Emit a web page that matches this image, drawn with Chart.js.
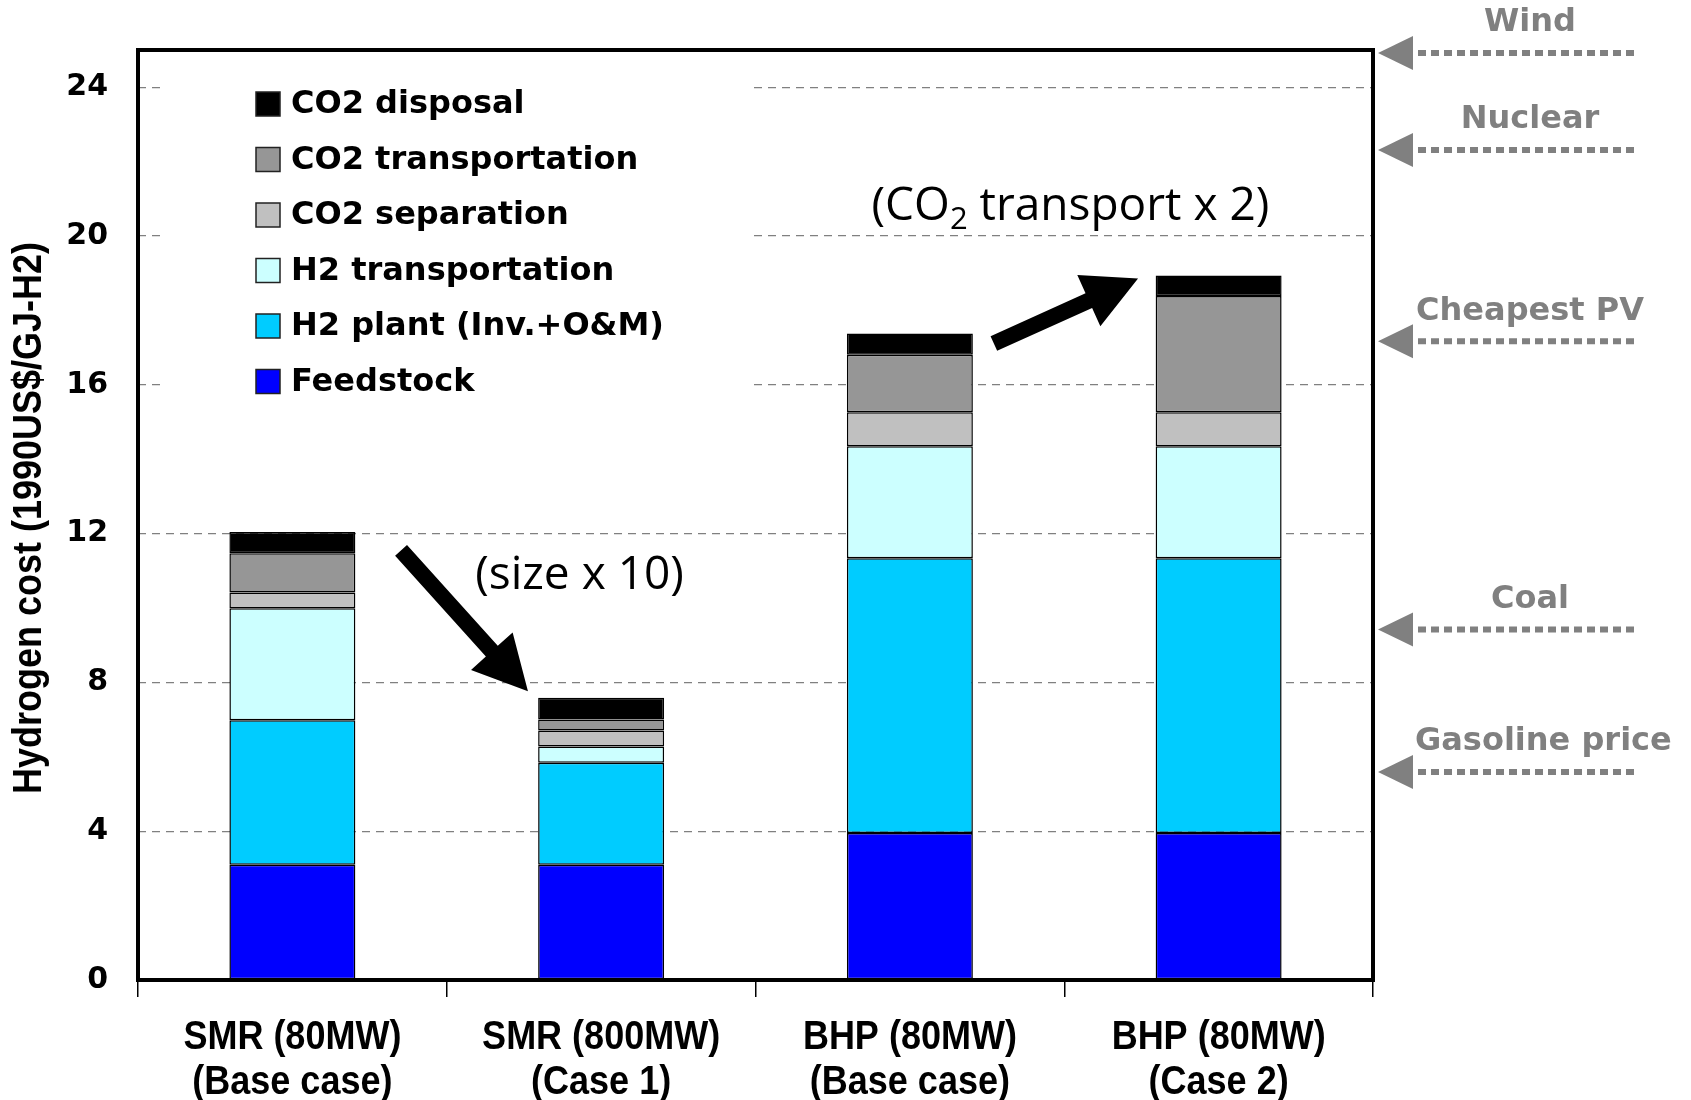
<!DOCTYPE html>
<html>
<head>
<meta charset="utf-8">
<script src="https://cdn.jsdelivr.net/npm/chart.js@4.4.1/dist/chart.umd.min.js"></script>
<style>
  html, body { margin: 0; padding: 0; background: #fff; }
</style>
</head>
<body>
<canvas id="chart" width="1691" height="1100"></canvas>
<script>
// categories (two-line labels)
const categories = [
  ['SMR (80MW)', '(Base case)'],
  ['SMR (800MW)', '(Case 1)'],
  ['BHP (80MW)', '(Base case)'],
  ['BHP (80MW)', '(Case 2)']
];

// stacked cost components, 1990US$/GJ-H2 (bottom to top)
const feedstock     = [3.10, 3.10, 3.95, 3.95];
const h2Plant       = [3.88, 2.74, 7.39, 7.39];
const h2Transport   = [3.01, 0.44, 3.01, 3.01];
const co2Separation = [0.43, 0.43, 0.91, 0.91];
const co2Transport  = [1.05, 0.29, 1.55, 3.13];
const co2Disposal   = [0.57, 0.59, 0.57, 0.55];

const yTicks = [0, 4, 8, 12, 16, 20, 24];
const yTitle = 'Hydrogen cost (1990US$/GJ-H2)';

// reference costs shown on the right-hand side
const benchLabels = ['Wind', 'Nuclear', 'Cheapest PV', 'Coal', 'Gasoline price'];
const benchValues = [24.92, 22.31, 17.17, 9.42, 5.59];

const FONT_BOLD = "'DejaVu Sans', Verdana, sans-serif";
const FONT_ARIAL = "'Liberation Sans', Arial, sans-serif";
const NARROW = 0.9; // horizontal squeeze to mimic a narrow face

// helper: category index (may be fractional) -> pixel
function catX(chart, i) {
  const a = chart.chartArea;
  const w = (a.right - a.left) / categories.length;
  return a.left + (i + 0.5) * w;
}

function blockArrow(ctx, x0, y0, x1, y1, shaft, headLen, headW) {
  const dx = x1 - x0, dy = y1 - y0;
  const len = Math.sqrt(dx * dx + dy * dy);
  const ux = dx / len, uy = dy / len;
  const nx = -uy, ny = ux;
  const bx = x1 - ux * headLen, by = y1 - uy * headLen;
  ctx.beginPath();
  ctx.moveTo(x0 + nx * shaft / 2, y0 + ny * shaft / 2);
  ctx.lineTo(bx + nx * shaft / 2, by + ny * shaft / 2);
  ctx.lineTo(bx + nx * headW / 2, by + ny * headW / 2);
  ctx.lineTo(x1, y1);
  ctx.lineTo(bx - nx * headW / 2, by - ny * headW / 2);
  ctx.lineTo(bx - nx * shaft / 2, by - ny * shaft / 2);
  ctx.lineTo(x0 - nx * shaft / 2, y0 - ny * shaft / 2);
  ctx.closePath();
  ctx.fill();
}

function narrowText(ctx, text, x, y) {
  ctx.save();
  ctx.translate(x, y);
  ctx.scale(NARROW, 1);
  ctx.fillText(text, 0, 0);
  ctx.restore();
}

const overlay = {
  id: 'overlay',
  beforeDatasetsDraw(chart) {
    const ctx = chart.ctx;
    const a = chart.chartArea;
    ctx.save();
    // legend panel hides the grid lines behind it
    ctx.fillStyle = '#fff';
    ctx.fillRect(a.left + 22, a.top + 15, 593, 345);
    const ds = chart.data.datasets.slice().reverse();
    ctx.font = 'bold 32px ' + FONT_BOLD;
    ctx.textBaseline = 'middle';
    ds.forEach((d, k) => {
      const y = a.top + 54 + k * 55.5;
      ctx.fillStyle = d.backgroundColor;
      ctx.fillRect(a.left + 118, y - 12, 24, 24);
      ctx.strokeStyle = '#222';
      ctx.lineWidth = 1.5;
      ctx.strokeRect(a.left + 118, y - 12, 24, 24);
      ctx.fillStyle = '#000';
      ctx.textAlign = 'left';
      ctx.fillText(d.label, a.left + 153, y + 1);
    });
    ctx.restore();
  },
  afterDraw(chart) {
    const ctx = chart.ctx;
    const a = chart.chartArea;
    const ys = chart.scales.y;
    const xs = chart.scales.x;
    ctx.save();

    // thick frame
    ctx.strokeStyle = '#000';
    ctx.lineWidth = 4;
    ctx.strokeRect(a.left, a.top, a.right - a.left, a.bottom - a.top);

    // category labels (narrow bold)
    ctx.fillStyle = '#000';
    ctx.font = 'bold 40px ' + FONT_ARIAL;
    ctx.textAlign = 'center';
    ctx.textBaseline = 'middle';
    categories.forEach((lines, i) => {
      const x = xs.getPixelForValue(i);
      lines.forEach((t, k) => narrowText(ctx, t, x, a.bottom + 58 + k * 45));
    });

    // y-axis title
    ctx.save();
    ctx.translate(30, (a.top + a.bottom) / 2 + 3);
    ctx.rotate(-Math.PI / 2);
    narrowText(ctx, yTitle, 0, 0);
    ctx.restore();

    // black annotation arrows
    ctx.fillStyle = '#000';
    blockArrow(ctx, catX(chart, 0.352), ys.getPixelForValue(11.55),
               catX(chart, 0.763), ys.getPixelForValue(7.76), 16, 54, 56);
    blockArrow(ctx, catX(chart, 2.272), ys.getPixelForValue(17.11),
               catX(chart, 2.739), ys.getPixelForValue(18.86), 16, 54, 56);

    // annotation texts
    ctx.font = "46px 'Open Sans', sans-serif";
    ctx.textBaseline = 'middle';
    ctx.textAlign = 'center';
    ctx.fillText('(size x 10)', catX(chart, 0.93), ys.getPixelForValue(10.87));

    const big = "46px 'Open Sans', sans-serif";
    const small = "31px 'Open Sans', sans-serif";
    const parts = [['(CO', big, 0], ['2', small, 13], [' transport x 2)', big, 0]];
    let total = 0;
    parts.forEach(p => { ctx.font = p[1]; total += ctx.measureText(p[0]).width; });
    let x = catX(chart, 2.52) - total / 2;
    const ty = ys.getPixelForValue(20.77);
    ctx.textAlign = 'left';
    parts.forEach(p => {
      ctx.font = p[1];
      ctx.fillText(p[0], x, ty + p[2]);
      x += ctx.measureText(p[0]).width;
    });

    // benchmark arrows on the right
    ctx.fillStyle = '#808080';
    ctx.strokeStyle = '#808080';
    benchValues.forEach((v, i) => {
      const y = ys.getPixelForValue(v);
      const tip = a.right + 5;
      ctx.beginPath();
      ctx.moveTo(tip, y);
      ctx.lineTo(tip + 35, y - 17);
      ctx.lineTo(tip + 35, y + 17);
      ctx.closePath();
      ctx.fill();
      ctx.setLineDash([8, 5]);
      ctx.lineWidth = 6;
      ctx.beginPath();
      ctx.moveTo(tip + 40, y);
      ctx.lineTo(a.right + 263, y);
      ctx.stroke();
      ctx.setLineDash([]);
      ctx.font = 'bold 32px ' + FONT_BOLD;
      const w = ctx.measureText(benchLabels[i]).width;
      let left = a.right + 157 - w / 2;
      if (left < a.right + 42) left = a.right + 42;
      ctx.textAlign = 'left';
      ctx.textBaseline = 'middle';
      ctx.fillText(benchLabels[i], left, y - 30);
    });
    ctx.restore();
  }
};

const barOpts = { borderColor: '#000', borderWidth: 1.5, borderSkipped: false };

new Chart(document.getElementById('chart'), {
  type: 'bar',
  data: {
    labels: categories,
    datasets: [
      Object.assign({ label: 'Feedstock', data: feedstock, backgroundColor: '#0000FF' }, barOpts),
      Object.assign({ label: 'H2 plant (Inv.+O&M)', data: h2Plant, backgroundColor: '#00CCFF' }, barOpts),
      Object.assign({ label: 'H2 transportation', data: h2Transport, backgroundColor: '#CCFFFF' }, barOpts),
      Object.assign({ label: 'CO2 separation', data: co2Separation, backgroundColor: '#C0C0C0' }, barOpts),
      Object.assign({ label: 'CO2 transportation', data: co2Transport, backgroundColor: '#969696' }, barOpts),
      Object.assign({ label: 'CO2 disposal', data: co2Disposal, backgroundColor: '#000000' }, barOpts)
    ]
  },
  options: {
    responsive: false,
    animation: false,
    layout: { padding: { top: 50, right: 318, left: 0, bottom: 0 } },
    datasets: { bar: { barPercentage: 0.408, categoryPercentage: 1 } },
    plugins: { legend: { display: false }, tooltip: { enabled: false } },
    scales: {
      x: {
        stacked: true,
        grid: { display: true, drawOnChartArea: false, drawTicks: true, tickLength: 17, color: '#000', lineWidth: 1.5, offset: true },
        border: { display: false },
        ticks: { display: false },
        afterFit(s) { s.height = 120; }
      },
      y: {
        stacked: true,
        min: 0,
        max: 25,
        afterBuildTicks(s) { s.ticks = yTicks.map(v => ({ value: v })); },
        grid: { color: '#808080', lineWidth: 1.3, drawTicks: false },
        border: { display: false, dash: [8, 6] },
        ticks: {
          color: '#000', padding: 30,
          font: { family: FONT_BOLD, weight: 'bold', size: 30 }
        },
        afterFit(s) { s.width = 138; }
      }
    }
  },
  plugins: [overlay]
});
</script>
</body>
</html>
